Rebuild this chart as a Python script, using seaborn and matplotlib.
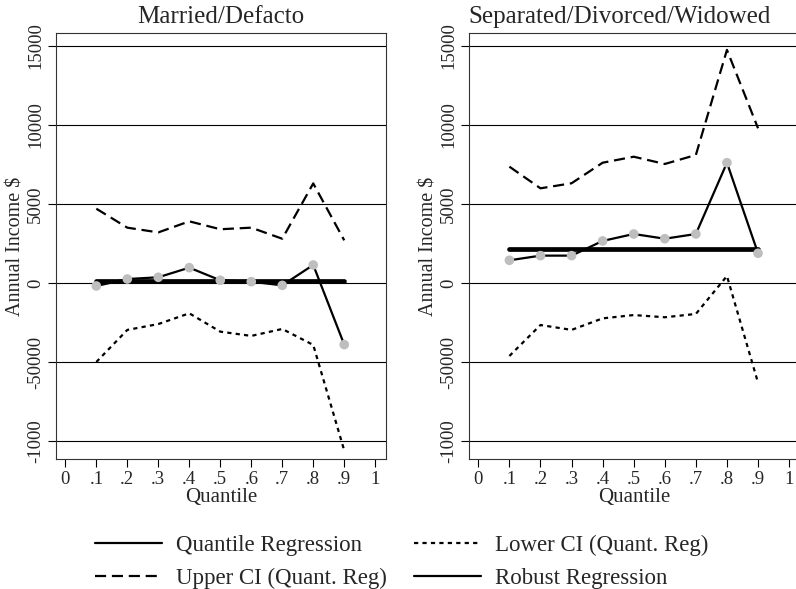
import numpy as np
import pandas as pd
import matplotlib
matplotlib.use("Agg")
import matplotlib.pyplot as plt
from matplotlib.lines import Line2D
import seaborn as sns

# quantiles used in the regressions
quantiles = [0.1, 0.2, 0.3, 0.4, 0.5, 0.6, 0.7, 0.8, 0.9]

# Married / Defacto
married_qr = [-190, 250, 360, 970, 170, 80, -150, 1140, -3900]
married_upper = [4700, 3500, 3200, 3900, 3400, 3500, 2800, 6300, 2700]
married_lower = [-5000, -2970, -2600, -1920, -3080, -3350, -2910, -3920, -10600]
married_robust = [150] * 9

# Separated / Divorced / Widowed
sep_qr = [1435, 1730, 1730, 2660, 3100, 2800, 3100, 7610, 1880]
sep_upper = [7360, 5990, 6310, 7610, 7990, 7530, 8100, 14750, 9790]
sep_lower = [-4620, -2660, -2970, -2240, -2030, -2170, -1960, 440, -6310]
sep_robust = [2150] * 9

titles = ["Married/Defacto", "Separated/Divorced/Widowed"]
ytick_vals = [-10000, -5000, 0, 5000, 10000, 15000]
ytick_labels = ["-1000", "-50000", "0", "5000", "10000", "15000"]
xtick_vals = [0, .1, .2, .3, .4, .5, .6, .7, .8, .9, 1]
xtick_labels = ["0", ".1", ".2", ".3", ".4", ".5", ".6", ".7", ".8", ".9", "1"]

sns.set_style("white")
plt.rcParams["font.family"] = ["Liberation Serif", "DejaVu Serif"]

fig = plt.figure(figsize=(7.96, 5.89), dpi=100)
ax1 = fig.add_axes([0.0704, 0.2207, 0.4146, 0.7233])
ax2 = fig.add_axes([0.5892, 0.2207, 0.4158, 0.7233])

panels = [
    (ax1, married_qr, married_upper, married_lower, married_robust),
    (ax2, sep_qr, sep_upper, sep_lower, sep_robust),
]

upper_ls = (0, (5.0, 2.6))
lower_ls = (0, (1.9, 1.9))
title_x = [0.5, 0.456]

for i, (ax, qr, up, lo, rob) in enumerate(panels):
    for v in ytick_vals:
        ax.axhline(v, color="black", lw=0.8, zorder=1)
    sns.lineplot(x=quantiles, y=up, ax=ax, color="black", lw=1.6, ls=upper_ls, zorder=2)
    sns.lineplot(x=quantiles, y=lo, ax=ax, color="black", lw=1.6, ls=lower_ls, zorder=2)
    sns.lineplot(x=quantiles, y=qr, ax=ax, color="black", lw=1.6, zorder=3)
    sns.lineplot(x=quantiles, y=rob, ax=ax, color="black", lw=3.4, zorder=4)
    sns.scatterplot(x=quantiles, y=qr, ax=ax, color="#bebebe", s=48, edgecolor="none", zorder=5)

    ax.set_xlim(-0.03, 1.035)
    ax.set_ylim(-11140, 15820)
    ax.set_xticks(xtick_vals)
    ax.set_xticklabels(xtick_labels)
    ax.set_yticks(ytick_vals)
    ax.set_yticklabels(ytick_labels, rotation=90, va="center")
    ax.tick_params(axis="both", direction="out", length=6, width=0.8,
                   color="black", labelsize=13.5, left=True, bottom=True, pad=2.5)
    for s in ax.spines.values():
        s.set_color("#333333")
        s.set_linewidth(0.8)
    ax.set_title(titles[i], fontsize=18, pad=7, x=title_x[i])
    ax.set_xlabel("Quantile", fontsize=15, labelpad=0)
    ax.set_ylabel("Annual Income $", fontsize=14.5, labelpad=1)

# right panel is clipped at the figure edge in the original
ax2.spines["right"].set_visible(False)

handles = [
    Line2D([], [], color="black", lw=1.6),
    Line2D([], [], color="black", lw=1.6, ls=upper_ls),
    Line2D([], [], color="black", lw=1.6, ls=lower_ls),
    Line2D([], [], color="black", lw=1.6),
]
labels = ["Quantile Regression", "Upper CI (Quant. Reg)",
          "Lower CI (Quant. Reg)", "Robust Regression"]
fig.legend(handles, labels, ncol=2, loc="lower left", bbox_to_anchor=(0.094, -0.035),
           frameon=False, fontsize=16.5, handlelength=2.9, handletextpad=0.6,
           columnspacing=1.22, labelspacing=0.5)

fig.savefig("out.png", dpi=100)
